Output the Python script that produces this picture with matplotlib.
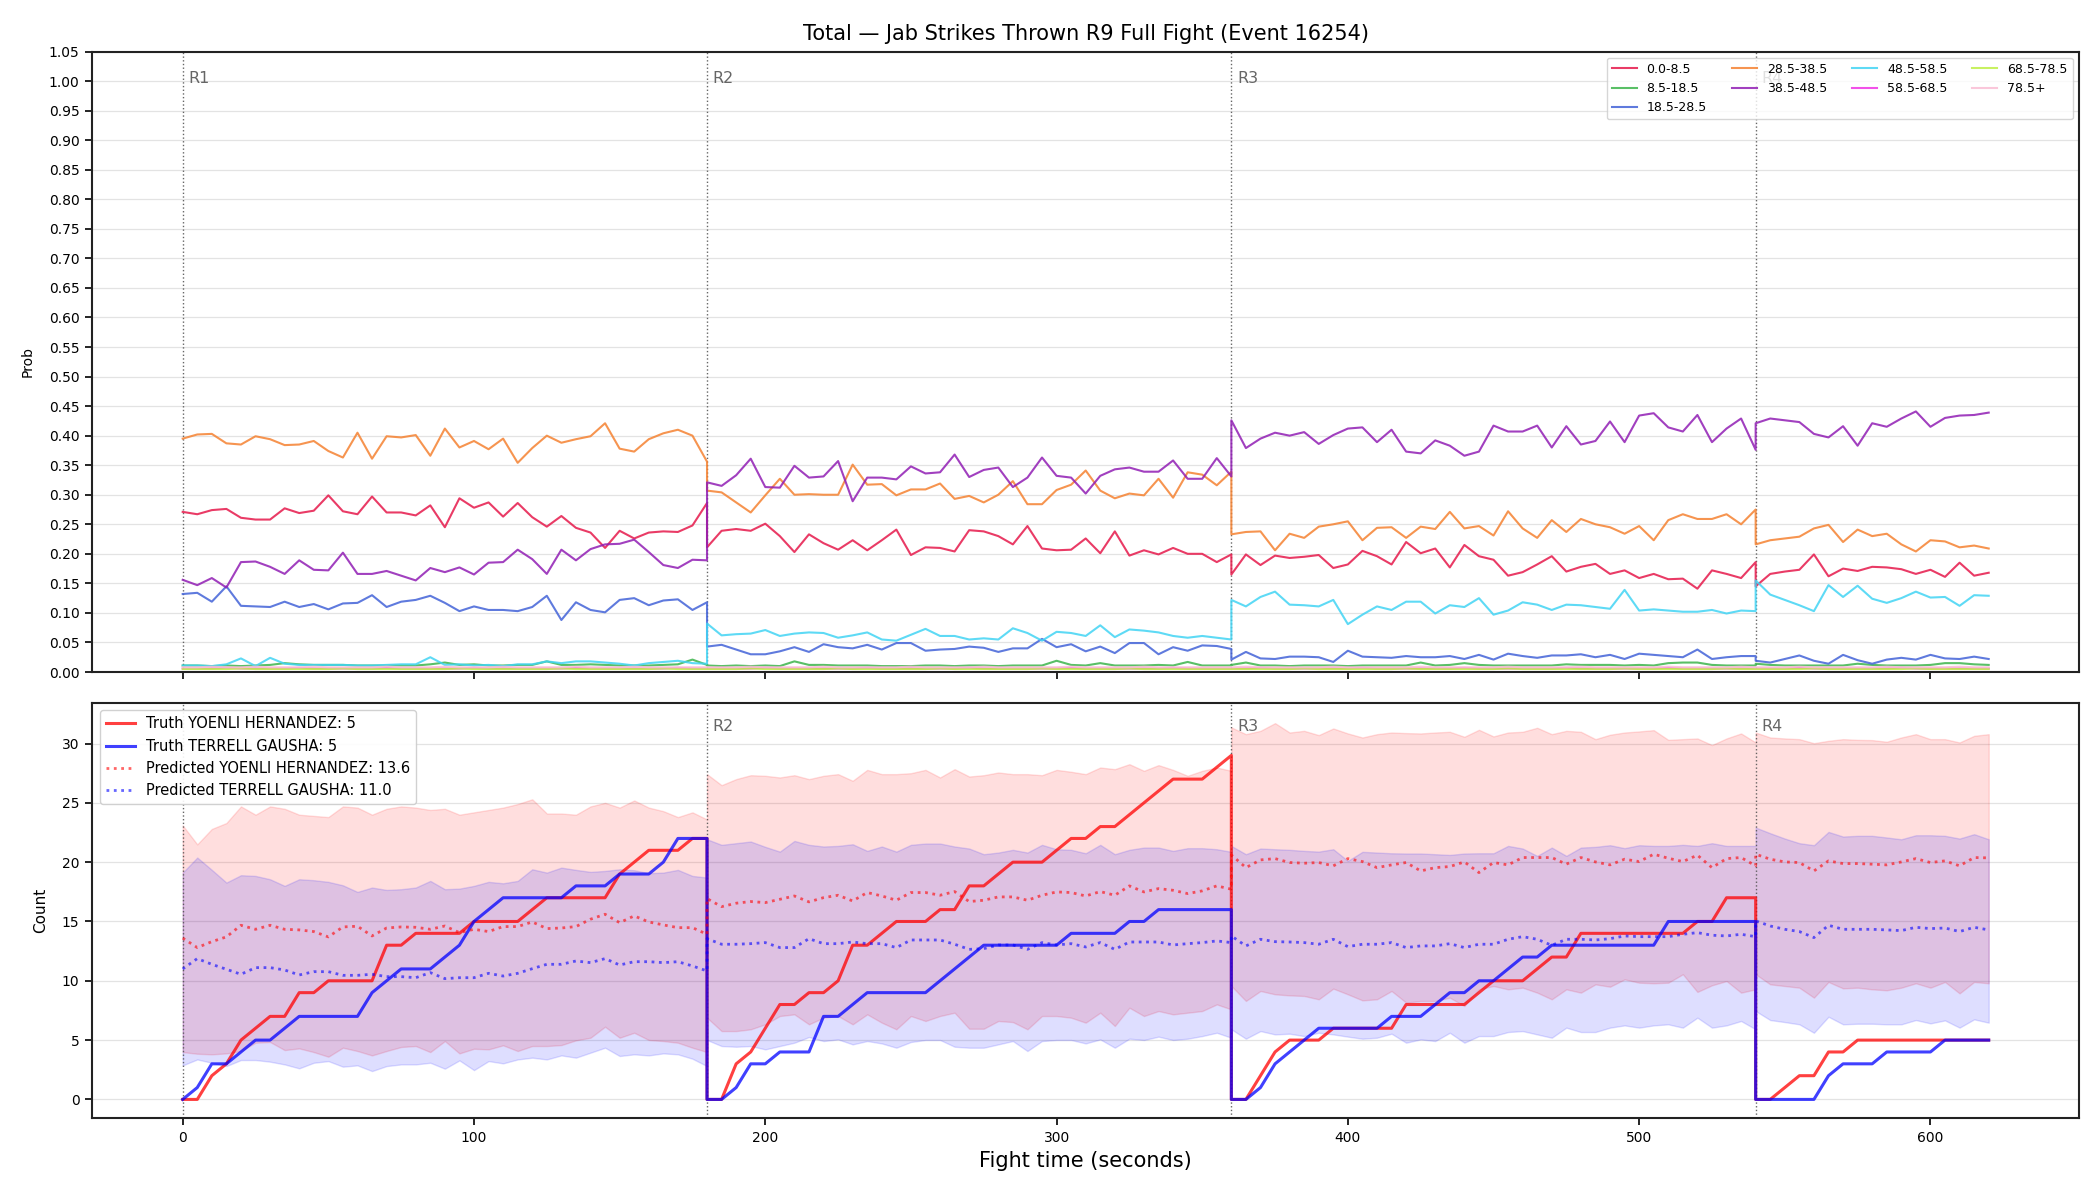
import numpy as np
import matplotlib
matplotlib.use("Agg")
import matplotlib.pyplot as plt

# ---------------- time grid (5 s samples, per round) ----------------
round_starts = [0, 180, 360, 540]
round_lengths = [180, 180, 180, 80]
step = 5
round_labels = ["R1", "R2", "R3", "R4"]

# ---------------- top panel: probability per bin ----------------
bin_labels = ["0.0-8.5", "8.5-18.5", "18.5-28.5", "28.5-38.5", "38.5-48.5",
              "48.5-58.5", "58.5-68.5", "68.5-78.5", "78.5+"]
bin_colors = ["#e6194b", "#3cb44b", "#4363d8", "#f58231", "#911eb4",
              "#42d4f4", "#f032e6", "#bfef45", "#fabed4"]

p_0_8 = [
    0.271,0.267,0.274,0.276,0.261,0.258,0.258,0.277,0.269,0.273,0.299,0.272,0.267,0.297,0.270,0.270,0.265,0.282,0.245,0.294,0.278,0.287,0.263,0.286,0.262,0.246,0.264,0.244,0.236,0.210,0.239,0.226,0.236,0.238,0.237,0.248,0.286,
    0.211,0.239,0.242,0.239,0.251,0.230,0.203,0.233,0.218,0.207,0.223,0.206,0.223,0.241,0.198,0.211,0.210,0.204,0.240,0.238,0.230,0.216,0.247,0.209,0.206,0.207,0.226,0.201,0.238,0.197,0.206,0.199,0.210,0.200,0.200,0.186,0.199,
    0.165,0.199,0.181,0.197,0.193,0.195,0.198,0.176,0.182,0.205,0.196,0.182,0.220,0.201,0.209,0.177,0.215,0.196,0.190,0.163,0.169,0.182,0.196,0.170,0.178,0.183,0.166,0.172,0.159,0.166,0.157,0.158,0.141,0.172,0.166,0.159,0.186,
    0.145,0.166,0.170,0.173,0.199,0.162,0.175,0.171,0.178,0.177,0.174,0.166,0.173,0.161,0.185,0.163,0.168]
p_8_18 = [
    0.011,0.011,0.010,0.011,0.010,0.011,0.012,0.015,0.013,0.012,0.012,0.012,0.011,0.011,0.011,0.011,0.011,0.013,0.016,0.012,0.013,0.011,0.011,0.012,0.012,0.018,0.012,0.012,0.013,0.012,0.011,0.011,0.011,0.012,0.013,0.021,0.012,
    0.011,0.010,0.011,0.010,0.011,0.010,0.018,0.012,0.012,0.011,0.011,0.011,0.010,0.010,0.010,0.011,0.011,0.010,0.011,0.011,0.010,0.011,0.011,0.011,0.019,0.012,0.011,0.015,0.011,0.011,0.011,0.012,0.011,0.017,0.011,0.011,0.011,
    0.012,0.016,0.011,0.011,0.010,0.011,0.011,0.011,0.010,0.011,0.011,0.011,0.011,0.016,0.011,0.012,0.015,0.012,0.011,0.011,0.011,0.011,0.011,0.013,0.012,0.012,0.012,0.011,0.012,0.011,0.015,0.016,0.016,0.012,0.011,0.011,0.011,
    0.014,0.012,0.011,0.011,0.011,0.011,0.011,0.014,0.012,0.011,0.011,0.011,0.012,0.015,0.015,0.013,0.012]
p_18_28 = [
    0.132,0.134,0.119,0.145,0.112,0.111,0.110,0.119,0.110,0.115,0.106,0.116,0.117,0.130,0.110,0.119,0.122,0.129,0.117,0.103,0.111,0.105,0.105,0.103,0.110,0.129,0.088,0.118,0.105,0.101,0.122,0.125,0.113,0.121,0.123,0.105,0.118,
    0.043,0.046,0.038,0.030,0.030,0.035,0.042,0.034,0.047,0.042,0.040,0.046,0.038,0.049,0.049,0.036,0.038,0.039,0.043,0.041,0.034,0.040,0.040,0.056,0.042,0.047,0.035,0.043,0.032,0.049,0.049,0.030,0.042,0.036,0.045,0.044,0.039,
    0.021,0.034,0.023,0.022,0.026,0.026,0.025,0.017,0.036,0.026,0.025,0.024,0.027,0.025,0.025,0.027,0.022,0.029,0.021,0.031,0.027,0.024,0.028,0.028,0.030,0.025,0.029,0.022,0.031,0.029,0.027,0.025,0.038,0.022,0.025,0.027,0.027,
    0.019,0.016,0.022,0.028,0.019,0.014,0.029,0.020,0.014,0.021,0.024,0.021,0.029,0.023,0.022,0.026,0.022]
p_28_38 = [
    0.395,0.402,0.403,0.387,0.385,0.399,0.394,0.384,0.385,0.391,0.374,0.363,0.405,0.361,0.399,0.397,0.401,0.366,0.412,0.380,0.391,0.377,0.395,0.354,0.379,0.400,0.388,0.394,0.399,0.421,0.378,0.373,0.394,0.404,0.410,0.400,0.356,
    0.307,0.304,0.287,0.270,0.299,0.327,0.300,0.301,0.300,0.300,0.351,0.317,0.318,0.299,0.309,0.309,0.319,0.293,0.298,0.287,0.300,0.323,0.284,0.284,0.308,0.317,0.341,0.307,0.294,0.302,0.299,0.327,0.295,0.338,0.334,0.316,0.339,
    0.233,0.237,0.238,0.206,0.234,0.227,0.246,0.250,0.255,0.223,0.244,0.245,0.227,0.246,0.242,0.271,0.243,0.247,0.231,0.272,0.243,0.227,0.257,0.237,0.259,0.250,0.245,0.234,0.247,0.223,0.257,0.267,0.259,0.259,0.267,0.250,0.275,
    0.216,0.223,0.226,0.229,0.243,0.249,0.220,0.241,0.230,0.234,0.216,0.204,0.223,0.221,0.211,0.214,0.209]
p_38_48 = [
    0.156,0.147,0.159,0.143,0.186,0.187,0.178,0.166,0.189,0.173,0.172,0.202,0.166,0.166,0.171,0.163,0.155,0.176,0.169,0.177,0.165,0.185,0.186,0.207,0.191,0.166,0.207,0.189,0.208,0.216,0.217,0.224,0.203,0.181,0.176,0.190,0.189,
    0.321,0.315,0.333,0.361,0.313,0.312,0.349,0.329,0.331,0.357,0.289,0.329,0.329,0.326,0.348,0.336,0.338,0.368,0.330,0.342,0.346,0.313,0.329,0.363,0.332,0.329,0.302,0.332,0.343,0.346,0.339,0.339,0.358,0.327,0.327,0.362,0.331,
    0.426,0.379,0.395,0.405,0.400,0.406,0.386,0.401,0.412,0.414,0.389,0.410,0.373,0.370,0.392,0.383,0.366,0.373,0.417,0.407,0.407,0.417,0.380,0.416,0.385,0.391,0.424,0.389,0.434,0.438,0.414,0.407,0.435,0.389,0.412,0.429,0.376,
    0.421,0.429,0.426,0.423,0.403,0.397,0.416,0.383,0.421,0.415,0.429,0.441,0.415,0.430,0.434,0.435,0.439]
p_48_58 = [
    0.011,0.011,0.010,0.013,0.023,0.010,0.024,0.014,0.012,0.012,0.012,0.012,0.011,0.011,0.012,0.013,0.013,0.025,0.012,0.013,0.011,0.012,0.010,0.013,0.013,0.018,0.015,0.018,0.018,0.016,0.014,0.011,0.015,0.017,0.019,0.015,0.014,
    0.082,0.062,0.064,0.065,0.071,0.061,0.065,0.067,0.066,0.058,0.062,0.067,0.055,0.053,0.063,0.073,0.061,0.061,0.055,0.057,0.055,0.074,0.066,0.053,0.068,0.066,0.061,0.079,0.059,0.072,0.070,0.067,0.061,0.058,0.061,0.058,0.055,
    0.122,0.111,0.127,0.136,0.114,0.113,0.111,0.122,0.081,0.097,0.111,0.105,0.119,0.119,0.099,0.113,0.110,0.125,0.097,0.104,0.118,0.114,0.105,0.114,0.113,0.110,0.107,0.139,0.104,0.106,0.104,0.102,0.102,0.105,0.099,0.104,0.103,
    0.155,0.131,0.122,0.113,0.103,0.147,0.127,0.146,0.124,0.117,0.125,0.136,0.126,0.127,0.112,0.130,0.129]
p_58_68 = [
    0.006,0.006,0.006,0.007,0.006,0.006,0.006,0.006,0.007,0.006,0.006,0.006,0.006,0.006,0.007,0.006,0.006,0.006,0.006,0.006,0.007,0.006,0.006,0.006,0.006,0.006,0.006,0.007,0.006,0.006,0.006,0.006,0.006,0.006,0.007,0.006,0.006,
    0.006,0.006,0.006,0.006,0.007,0.006,0.006,0.006,0.006,0.006,0.006,0.007,0.006,0.006,0.006,0.006,0.006,0.006,0.007,0.006,0.006,0.006,0.006,0.006,0.006,0.007,0.006,0.006,0.006,0.006,0.006,0.006,0.007,0.006,0.006,0.006,0.006,
    0.006,0.006,0.007,0.006,0.006,0.006,0.006,0.006,0.006,0.007,0.006,0.006,0.006,0.006,0.006,0.006,0.007,0.006,0.006,0.006,0.006,0.006,0.006,0.007,0.006,0.006,0.006,0.006,0.006,0.006,0.007,0.006,0.006,0.006,0.006,0.006,0.006,
    0.006,0.006,0.006,0.007,0.006,0.006,0.006,0.006,0.006,0.006,0.007,0.006,0.006,0.006,0.006,0.006,0.006]
p_68_78 = [
    0.005,0.005,0.005,0.005,0.006,0.005,0.005,0.005,0.005,0.005,0.005,0.006,0.005,0.005,0.005,0.005,0.005,0.005,0.005,0.006,0.005,0.005,0.005,0.005,0.005,0.005,0.006,0.005,0.005,0.005,0.005,0.005,0.005,0.006,0.005,0.005,0.005,
    0.005,0.005,0.005,0.006,0.005,0.005,0.005,0.005,0.005,0.006,0.005,0.005,0.005,0.005,0.005,0.005,0.006,0.005,0.005,0.005,0.005,0.005,0.005,0.006,0.005,0.005,0.005,0.005,0.005,0.006,0.005,0.005,0.005,0.005,0.005,0.005,0.005,
    0.005,0.005,0.005,0.005,0.005,0.006,0.005,0.005,0.005,0.005,0.005,0.005,0.006,0.005,0.005,0.005,0.005,0.005,0.005,0.006,0.005,0.005,0.005,0.005,0.005,0.005,0.005,0.006,0.005,0.005,0.005,0.005,0.005,0.005,0.006,0.005,0.005,
    0.005,0.005,0.005,0.005,0.006,0.005,0.005,0.005,0.005,0.005,0.005,0.006,0.005,0.005,0.005,0.005,0.005]
p_78_up = [
    0.008,0.008,0.009,0.008,0.008,0.009,0.008,0.008,0.008,0.009,0.008,0.008,0.008,0.008,0.009,0.008,0.008,0.008,0.009,0.008,0.008,0.008,0.009,0.008,0.008,0.008,0.008,0.009,0.008,0.008,0.008,0.009,0.008,0.008,0.008,0.008,0.008,
    0.008,0.008,0.008,0.009,0.008,0.008,0.008,0.008,0.009,0.008,0.008,0.008,0.008,0.008,0.009,0.008,0.008,0.008,0.008,0.009,0.008,0.008,0.008,0.008,0.008,0.009,0.008,0.008,0.008,0.008,0.009,0.008,0.008,0.008,0.008,0.008,0.008,
    0.008,0.009,0.008,0.008,0.008,0.008,0.008,0.009,0.008,0.008,0.008,0.008,0.008,0.009,0.008,0.008,0.008,0.008,0.008,0.009,0.008,0.008,0.008,0.008,0.009,0.008,0.008,0.008,0.008,0.008,0.009,0.008,0.008,0.008,0.008,0.009,0.008,
    0.008,0.008,0.008,0.009,0.008,0.008,0.008,0.008,0.008,0.009,0.008,0.008,0.008,0.008,0.009,0.008,0.008]

# ---------------- bottom panel: counts ----------------
fighter_red = "YOENLI HERNANDEZ"
fighter_blue = "TERRELL GAUSHA"

truth_red = [
    0,0,2,3,5,6,7,7,9,9,10,10,10,10,13,13,14,14,14,14,15,15,15,15,16,17,17,17,17,17,19,20,21,21,21,22,22,
    0,0,3,4,6,8,8,9,9,10,13,13,14,15,15,15,16,16,18,18,19,20,20,20,21,22,22,23,23,24,25,26,27,27,27,28,29,
    0,0,2,4,5,5,5,6,6,6,6,6,8,8,8,8,8,9,10,10,10,11,12,12,14,14,14,14,14,14,14,14,15,15,17,17,17,
    0,0,1,2,2,4,4,5,5,5,5,5,5,5,5,5,5]
truth_blue = [
    0,1,3,3,4,5,5,6,7,7,7,7,7,9,10,11,11,11,12,13,15,16,17,17,17,17,17,18,18,18,19,19,19,20,22,22,22,
    0,0,1,3,3,4,4,4,7,7,8,9,9,9,9,9,10,11,12,13,13,13,13,13,13,14,14,14,14,15,15,16,16,16,16,16,16,
    0,0,1,3,4,5,6,6,6,6,6,7,7,7,8,9,9,10,10,11,12,12,13,13,13,13,13,13,13,13,15,15,15,15,15,15,15,
    0,0,0,0,0,2,3,3,3,4,4,4,4,5,5,5,5]
pred_red = [
    13.6,12.80,13.30,13.70,14.68,14.34,14.68,14.34,14.29,14.15,13.70,14.54,14.60,13.78,14.45,14.54,14.51,14.34,14.62,14.06,14.34,14.15,14.57,14.57,14.96,14.40,14.45,14.57,15.19,15.61,14.90,15.47,14.96,14.71,14.48,14.48,13.92,
    16.93,16.25,16.54,16.68,16.59,16.87,17.15,16.65,17.01,17.21,16.73,17.44,17.15,16.79,17.44,17.44,17.21,17.52,16.68,16.79,17.07,17.07,16.79,17.21,17.49,17.44,17.15,17.52,17.21,18.00,17.49,17.77,17.63,17.35,17.58,18.00,17.72,
    20.61,19.54,20.19,20.30,19.97,19.91,19.97,19.69,20.30,20.05,19.54,19.77,19.97,19.26,19.54,19.63,20.02,19.12,19.97,19.77,20.39,20.39,20.39,19.83,20.39,20.02,19.77,20.25,20.05,20.67,20.33,20.05,20.59,19.54,20.30,20.39,19.69,
    20.67,20.25,20.02,19.97,19.26,20.11,19.88,19.88,19.83,19.77,20.02,20.30,19.97,20.11,19.69,20.39,20.36]
pred_blue = [
    11.0,11.87,11.39,10.97,10.55,11.11,11.11,10.91,10.49,10.77,10.77,10.46,10.46,10.55,10.35,10.35,10.26,10.69,10.18,10.26,10.26,10.63,10.40,10.63,11.02,11.39,11.39,11.67,11.53,11.87,11.33,11.61,11.61,11.53,11.61,11.25,10.83,
    13.55,13.08,13.08,13.13,13.22,12.80,12.80,13.55,13.13,13.13,13.27,13.13,13.13,12.80,13.44,13.44,13.44,13.08,12.65,12.71,13.02,13.02,12.65,13.22,13.02,13.13,12.85,13.22,12.65,13.27,13.27,13.27,13.02,13.13,13.22,13.36,13.22,
    13.78,12.94,13.50,13.30,13.27,13.22,13.08,13.50,12.88,13.08,13.08,13.22,12.80,12.94,12.94,13.13,12.80,13.08,13.08,13.50,13.72,13.50,12.99,13.50,13.50,13.44,13.55,13.78,13.72,13.72,13.72,13.92,14.06,13.84,13.78,13.92,13.72,
    15.05,14.62,14.34,14.15,13.64,14.68,14.34,14.34,14.34,14.29,14.23,14.51,14.40,14.45,14.15,14.51,14.29]
red_hi = [
    23.1,21.5,22.8,23.3,24.7,24.0,24.7,24.5,24.0,23.9,23.8,24.7,24.6,24.0,24.5,24.7,24.6,24.4,24.5,24.0,24.2,24.4,24.6,24.9,25.3,24.1,24.1,24.0,24.7,25.0,24.6,25.2,24.6,24.3,23.8,24.2,23.6,
    27.42,26.49,27.00,27.33,27.28,27.14,27.33,27.00,27.28,27.42,26.86,27.78,27.42,27.42,27.50,27.78,27.14,27.84,27.22,27.33,27.56,27.42,27.42,27.33,27.78,27.62,27.42,27.98,27.84,28.26,27.70,28.18,27.78,27.28,27.70,27.98,27.70,
    31.36,30.79,31.07,31.72,30.93,31.07,30.71,31.27,30.85,30.51,30.79,30.93,30.88,30.85,30.93,30.99,30.57,31.16,30.60,30.93,30.99,31.33,30.79,31.07,30.99,30.37,30.74,30.93,31.02,31.13,30.31,30.37,30.43,29.87,30.43,30.85,30.09,
    30.93,30.51,30.43,30.37,30.03,30.23,30.37,30.31,30.29,30.15,30.51,30.79,30.37,30.37,30.09,30.65,30.79]
red_lo = [
    3.99,3.85,3.80,3.88,4.08,4.78,4.84,4.16,4.30,3.99,3.60,4.36,4.08,3.71,4.08,4.42,4.50,3.99,4.92,3.88,4.27,4.22,4.56,4.08,4.50,4.50,4.58,4.98,5.20,6.13,5.20,5.62,5.01,4.92,4.78,4.36,3.99,
    6.89,5.76,5.76,5.91,6.33,7.03,7.17,6.33,6.89,7.03,6.33,7.17,6.47,5.91,7.03,6.61,7.03,7.31,5.96,5.96,6.61,6.52,5.91,7.03,7.03,6.89,6.47,7.31,6.19,7.73,7.03,7.45,7.17,7.31,7.45,8.01,7.59,
    9.56,8.30,9.14,8.86,8.77,8.72,8.44,9.34,8.86,8.35,8.44,9.14,8.16,8.30,8.30,8.58,7.87,9.28,9.56,9.28,9.42,9.00,8.44,9.28,9.00,9.70,9.50,10.12,9.84,9.79,9.84,10.55,9.06,9.62,9.98,9.00,9.28,
    10.55,9.70,9.56,9.42,8.58,9.90,9.36,9.42,9.28,9.20,9.42,9.79,9.42,9.90,8.94,9.90,9.79]
blue_hi = [
    19.12,20.39,19.35,18.28,18.90,18.84,18.56,18.00,18.56,18.48,18.34,18.05,17.49,17.86,17.66,17.72,17.86,18.42,17.72,17.77,18.00,18.34,18.22,18.42,19.40,19.12,19.54,19.35,19.18,19.26,19.40,19.32,19.07,19.12,19.35,18.84,18.70,
    21.93,21.46,21.60,21.74,21.29,20.89,21.79,21.46,21.32,21.37,21.51,20.95,21.32,20.89,21.46,21.57,21.57,21.32,21.15,20.67,20.81,21.04,20.81,21.46,21.09,21.04,20.75,21.46,20.67,21.04,21.23,21.23,20.95,21.18,21.18,21.09,20.87,
    21.37,20.67,21.15,21.09,21.04,20.95,20.89,21.09,20.11,20.87,20.81,20.75,20.73,20.73,20.67,20.61,20.73,20.75,20.75,21.37,21.15,20.53,21.23,20.53,21.23,21.29,21.43,21.18,21.43,21.37,21.37,21.46,21.37,21.60,21.37,21.37,21.37,
    22.92,22.44,21.99,21.60,21.43,22.55,22.16,22.22,22.22,22.08,21.93,22.27,22.27,22.22,21.99,22.36,21.93]
blue_lo = [
    2.87,3.37,3.09,2.81,3.32,3.32,3.18,2.95,2.62,3.09,3.23,2.76,2.87,2.39,2.81,2.95,2.95,3.09,2.59,3.29,2.47,3.23,3.04,3.37,3.52,3.37,3.71,3.52,3.94,4.36,3.66,3.80,3.71,3.88,3.80,3.43,2.81,
    5.01,4.50,4.44,4.50,4.22,4.50,4.78,5.26,4.92,5.06,4.64,4.92,4.72,4.36,4.84,5.01,5.01,4.44,4.36,4.36,4.64,4.92,4.08,4.92,5.01,5.01,4.72,5.06,4.36,5.12,5.01,5.29,5.01,5.12,5.34,5.62,5.20,
    5.91,5.12,5.76,5.48,5.54,5.34,5.62,5.48,5.29,5.12,5.20,5.54,4.78,5.06,4.92,5.62,4.78,5.34,5.34,5.68,5.76,5.48,5.20,6.05,5.68,5.68,6.05,6.24,6.05,6.24,6.33,6.05,6.89,6.05,6.24,6.61,5.91,
    7.45,6.69,6.52,6.33,5.62,6.97,6.33,6.38,6.38,6.33,6.33,6.69,6.41,6.66,6.05,6.75,6.47]

# ---------------- build time axis ----------------
t = np.concatenate([np.arange(s, s + L + 1, step) for s, L in zip(round_starts, round_lengths)])
n = len(t)
prob_series = [p_0_8, p_8_18, p_18_28, p_28_38, p_38_48, p_48_58, p_58_68, p_68_78, p_78_up]
for s in prob_series + [truth_red, truth_blue, pred_red, pred_blue, red_hi, red_lo, blue_hi, blue_lo]:
    assert len(s) == n, (len(s), n)

# ---------------- figure ----------------
fig = plt.figure(figsize=(21, 12), dpi=100)
ax1 = fig.add_axes([0.044, 0.44, 0.946, 0.517])
ax2 = fig.add_axes([0.044, 0.068, 0.946, 0.346], sharex=ax1)

for ax in (ax1, ax2):
    ax.set_axisbelow(True)
    ax.grid(axis="y", color="#e3e3e3", linewidth=0.9)
    for sp in ax.spines.values():
        sp.set_linewidth(1.5)
        sp.set_color("#222222")
    ax.tick_params(labelsize=10, length=4.8, width=1.2, pad=4.5)

# top panel
for vals, lab, col in zip(prob_series, bin_labels, bin_colors):
    ax1.plot(t, vals, color=col, lw=1.5, alpha=0.85, label=lab)
ax1.set_ylim(0, 1.05)
ax1.set_yticks(np.arange(0, 1.0501, 0.05))
ax1.set_yticklabels([f"{v:.2f}" for v in np.arange(0, 1.0501, 0.05)])
ax1.set_ylabel("Prob", fontsize=10, labelpad=10)
ax1.set_title("Total — Jab Strikes Thrown R9 Full Fight (Event 16254)", fontsize=15, pad=8)
plt.setp(ax1.get_xticklabels(), visible=False)
leg1 = ax1.legend(loc="upper right", ncol=4, fontsize=9, framealpha=0.8)
leg1.set_zorder(5)

# bottom panel
ax2.fill_between(t, red_lo, red_hi, color="red", alpha=0.13)
ax2.fill_between(t, blue_lo, blue_hi, color="blue", alpha=0.13)
ax2.plot(t, truth_red, color="red", lw=2.2, alpha=0.75, label=f"Truth {fighter_red}: {truth_red[-1]}")
ax2.plot(t, truth_blue, color="blue", lw=2.2, alpha=0.75, label=f"Truth {fighter_blue}: {truth_blue[-1]}")
ax2.plot(t, pred_red, color="red", lw=2.0, ls=":", alpha=0.6, label=f"Predicted {fighter_red}: {pred_red[0]:.1f}")
ax2.plot(t, pred_blue, color="blue", lw=2.0, ls=":", alpha=0.6, label=f"Predicted {fighter_blue}: {pred_blue[0]:.1f}")
ax2.set_ylim(-1.6, 33.4)
ax2.set_ylabel("Count", fontsize=11, labelpad=10)
ax2.set_xlabel("Fight time (seconds)", fontsize=15)
ax2.legend(loc="upper left", fontsize=10.5, framealpha=0.9)

ax1.set_xlim(-31, 651)

# round markers (R1 label in the lower panel sits under the legend, so it is not drawn there)
for ax, ytxt in ((ax1, 0.968), (ax2, 0.962)):
    for s, lab in zip(round_starts, round_labels):
        ax.axvline(s, color="#555555", ls=":", lw=1.0, alpha=0.9, zorder=1)
        if ax is ax2 and s == round_starts[0]:
            continue
        ax.text(s + 2, ytxt, lab, transform=ax.get_xaxis_transform(), color="#666666",
                fontsize=11.5, va="top", ha="left", zorder=1)

fig.savefig("out.png", dpi=100)
